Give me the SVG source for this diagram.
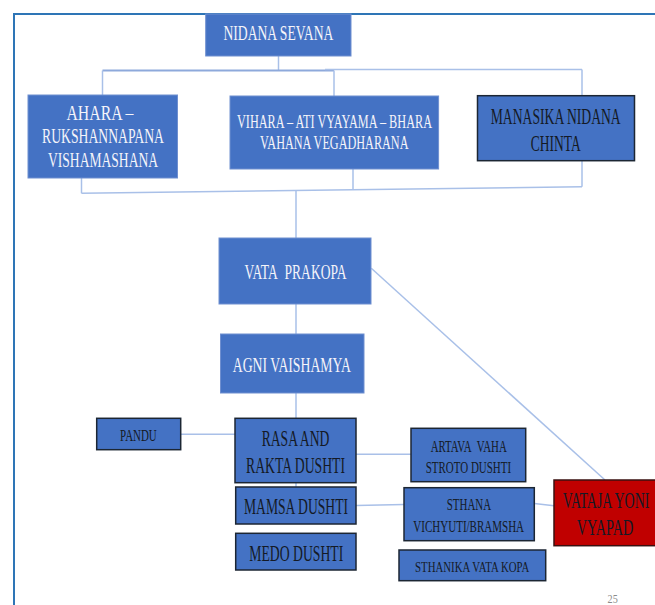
<svg xmlns="http://www.w3.org/2000/svg" width="655" height="605" viewBox="0 0 655 605">
<style>
  .box { fill: #4472c4; stroke: #6f8fd0; stroke-width: 1; }
  .boxd { fill: #4472c4; stroke: #1c2633; stroke-width: 1.5; }
  .red { fill: #c00000; stroke: #3a1010; stroke-width: 1.5; }
  .frame { fill: none; stroke: #2e75b6; stroke-width: 2; }
  .con { fill: none; stroke: #a9c0e8; stroke-width: 1.5; }
  .con2 { fill: none; stroke: #8ea9db; stroke-width: 2; }
  text { font-family: "Liberation Serif", "Times New Roman", serif; text-anchor: middle; }
  .w { fill: #f4f4fa; font-size: 22px; }
  .wm { fill: #f4f4fa; font-size: 19px; }
  .d { fill: #141a26; font-size: 23px; }
  .dl { fill: #141a26; font-size: 24px; }
  .ds { fill: #141a26; font-size: 17px; }
  .dxs { fill: #141a26; font-size: 15.5px; }
  .pg { fill: #8c8c8c; font-size: 12px; }
</style>
<rect x="0" y="0" width="655" height="605" fill="#ffffff"/>
<path class="frame" d="M14 605 V14 H655"/>
<g id="connectors">
  <path class="con" d="M278.5 56 V70.5"/>
  <path class="con2" d="M102.5 70.5 H334"/>
  <path class="con" d="M325 69.5 H582"/>
  <path class="con" d="M102.5 70.5 V95"/>
  <path class="con" d="M334 70.5 V96"/>
  <path class="con" d="M582 69.5 V96"/>
  <path class="con" d="M81.5 178 V193.3"/>
  <path class="con" d="M353 169 V190"/>
  <path class="con" d="M582 161 V186.7"/>
  <path class="con" d="M81.5 193.3 L582 186.7"/>
  <path class="con" d="M296 190.5 V238"/>
  <path class="con" d="M296 304 V334"/>
  <path class="con" d="M296 393 V418"/>
  <path class="con" d="M180.7 434.3 H235"/>
  <path class="con" d="M356 454.3 H411"/>
  <path class="con" d="M296 482.7 V487"/>
  <path class="con" d="M356 505.5 L404 504.5"/>
  <path class="con" d="M534.3 503.5 L554 505.7"/>
  <path class="con" d="M371.3 268.3 L605 480"/>
</g>
<g id="nidana-sevana">
  <rect class="box" x="205.7" y="14" width="145.3" height="42"/>
  <text class="w" transform="translate(278.4 40) scale(0.606 1)" textLength="181.5" lengthAdjust="spacingAndGlyphs">NIDANA SEVANA</text>
</g>
<g id="ahara">
  <rect class="box" x="28" y="95" width="149.5" height="83"/>
  <text class="w" transform="translate(100 120) scale(0.707 1)" textLength="94.8" lengthAdjust="spacingAndGlyphs">AHARA –</text>
  <text class="w" transform="translate(103 143) scale(0.604 1)" textLength="202" lengthAdjust="spacingAndGlyphs">RUKSHANNAPANA</text>
  <text class="w" transform="translate(103 167) scale(0.618 1)" textLength="178" lengthAdjust="spacingAndGlyphs">VISHAMASHANA</text>
</g>
<g id="vihara">
  <rect class="box" x="230" y="96" width="208.6" height="73"/>
  <text class="wm" transform="translate(334.5 128) scale(0.621 1)" textLength="314" lengthAdjust="spacingAndGlyphs">VIHARA – ATI VYAYAMA – BHARA</text>
  <text class="wm" transform="translate(334.3 149) scale(0.632 1)" textLength="234.8" lengthAdjust="spacingAndGlyphs">VAHANA VEGADHARANA</text>
</g>
<g id="manasika">
  <rect class="boxd" x="477.5" y="95.7" width="157" height="65"/>
  <text class="d" transform="translate(555.7 124) scale(0.59 1)" textLength="220.3" lengthAdjust="spacingAndGlyphs">MANASIKA NIDANA</text>
  <text class="d" transform="translate(555.7 150.7) scale(0.575 1)" textLength="87" lengthAdjust="spacingAndGlyphs">CHINTA</text>
</g>
<g id="vata-prakopa">
  <rect class="box" x="219" y="238" width="152" height="66"/>
  <text class="w" transform="translate(295.5 279) scale(0.584 1)" textLength="174.7" lengthAdjust="spacingAndGlyphs">VATA&#160; PRAKOPA</text>
</g>
<g id="agni-vaishamya">
  <rect class="box" x="220.5" y="334" width="143.5" height="59"/>
  <text class="w" transform="translate(291.8 371.7) scale(0.605 1)" textLength="195" lengthAdjust="spacingAndGlyphs">AGNI VAISHAMYA</text>
</g>
<g id="pandu">
  <rect class="boxd" x="96.7" y="418.3" width="84" height="31.4"/>
  <text class="ds" transform="translate(138.4 441) scale(0.627 1)" textLength="58.5" lengthAdjust="spacingAndGlyphs">PANDU</text>
</g>
<g id="rasa-rakta">
  <rect class="boxd" x="235" y="418.3" width="121" height="64.4"/>
  <text class="d" transform="translate(295.5 445.7) scale(0.579 1)" textLength="116.9" lengthAdjust="spacingAndGlyphs">RASA AND</text>
  <text class="d" transform="translate(295.5 473.3) scale(0.585 1)" textLength="169.2" lengthAdjust="spacingAndGlyphs">RAKTA DUSHTI</text>
</g>
<g id="mamsa">
  <rect class="boxd" x="235.7" y="487" width="120.3" height="37"/>
  <text class="d" transform="translate(296 514.3) scale(0.588 1)" textLength="176.9" lengthAdjust="spacingAndGlyphs">MAMSA DUSHTI</text>
</g>
<g id="medo">
  <rect class="boxd" x="235.7" y="533.3" width="120.3" height="36.7"/>
  <text class="d" transform="translate(296.3 560.7) scale(0.596 1)" textLength="157.7" lengthAdjust="spacingAndGlyphs">MEDO DUSHTI</text>
</g>
<g id="artava">
  <rect class="boxd" x="411" y="428.3" width="114.7" height="53.4"/>
  <text class="ds" transform="translate(468.7 451.7) scale(0.592 1)" textLength="128.4" lengthAdjust="spacingAndGlyphs">ARTAVA&#160; VAHA</text>
  <text class="ds" transform="translate(468.4 473.3) scale(0.643 1)" textLength="132.7" lengthAdjust="spacingAndGlyphs">STROTO DUSHTI</text>
</g>
<g id="sthana">
  <rect class="boxd" x="404" y="487.7" width="130.3" height="53"/>
  <text class="ds" transform="translate(468.9 510) scale(0.643 1)" textLength="68.9" lengthAdjust="spacingAndGlyphs">STHANA</text>
  <text class="ds" transform="translate(468.7 531.7) scale(0.648 1)" textLength="170.8" lengthAdjust="spacingAndGlyphs">VICHYUTI/BRAMSHA</text>
</g>
<g id="sthanika">
  <rect class="boxd" x="399" y="550" width="146.7" height="30.7"/>
  <text class="dxs" transform="translate(472.2 571.7) scale(0.664 1)" textLength="172.1" lengthAdjust="spacingAndGlyphs">STHANIKA VATA KOPA</text>
</g>
<g id="vataja">
  <rect class="red" x="554" y="480" width="103" height="65.7"/>
  <text class="dl" transform="translate(606 508.3) scale(0.544 1)" textLength="159.4" lengthAdjust="spacingAndGlyphs">VATAJA YONI</text>
  <text class="dl" transform="translate(605 535) scale(0.567 1)" textLength="100" lengthAdjust="spacingAndGlyphs">VYAPAD</text>
</g>
<text class="pg" transform="translate(612.7 602.7) scale(0.85 1)">25</text>
</svg>
